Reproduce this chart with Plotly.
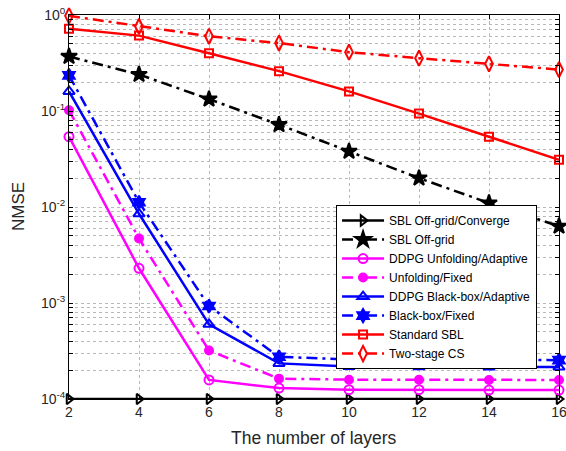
import plotly.graph_objects as go

layers = [2, 4, 6, 8, 10, 12, 14, 16]
sbl_offgrid_converge = [1e-4, 1e-4, 1e-4, 1e-4, 1e-4, 1e-4, 1e-4, 1e-4]
sbl_offgrid = [0.37, 0.24, 0.133, 0.072, 0.038, 0.020, 0.011, 0.0063]
ddpg_unfolding = [0.054, 0.0023, 0.000158, 0.000130, 0.000125, 0.000125, 0.000124, 0.000124]
unfolding_fixed = [0.102, 0.0047, 0.00032, 0.000163, 0.000159, 0.000159, 0.000158, 0.000158]
ddpg_blackbox = [0.16, 0.0085, 0.0006, 0.000235, 0.000218, 0.000217, 0.000216, 0.000215]
blackbox_fixed = [0.235, 0.0112, 0.00093, 0.000275, 0.000258, 0.000256, 0.000255, 0.000254]
standard_sbl = [0.72, 0.61, 0.40, 0.26, 0.16, 0.094, 0.054, 0.031]
two_stage_cs = [0.98, 0.76, 0.60, 0.51, 0.41, 0.355, 0.31, 0.27]

y_decades = [-4, -3, -2, -1, 0]
y_tickvals = []
y_ticktext = []
for d in y_decades:
    for m in range(1, 10):
        if d == 0 and m > 1:
            break
        y_tickvals.append(m * 10.0 ** d)
        y_ticktext.append(f"10<sup>{d}</sup>" if m == 1 else "")

DASHDOT = "11px,5px,3px,5px"
series = [
    ("SBL Off-grid/Converge", sbl_offgrid_converge, "black", "solid", "triangle-right-open", 9),
    ("SBL Off-grid", sbl_offgrid, "black", DASHDOT, "star", 12),
    ("DDPG Unfolding/Adaptive", ddpg_unfolding, "#ff00ff", "solid", "circle-open", 9),
    ("Unfolding/Fixed", unfolding_fixed, "#ff00ff", DASHDOT, "circle", 8),
    ("DDPG Black-box/Adaptive", ddpg_blackbox, "blue", "solid", "triangle-up-open", 10),
    ("Black-box/Fixed", blackbox_fixed, "blue", DASHDOT, "hexagram", 10),
    ("Standard SBL", standard_sbl, "red", "solid", "square-open", 8),
    ("Two-stage CS", two_stage_cs, "red", DASHDOT, "diamond-tall-open", 11),
]

fig = go.Figure()
for name, ys, color, dash, sym, size in series:
    fig.add_trace(go.Scatter(
        x=layers, y=ys, name=name, mode="lines+markers",
        line=dict(color=color, width=2.5, dash=dash),
        marker=dict(symbol=sym, size=size, color=color, line=dict(color=color, width=2)),
        cliponaxis=False,
    ))

axis_common = dict(
    showline=True, linecolor="black", linewidth=1, mirror="allticks",
    ticks="inside", ticklen=4, tickcolor="black",
    gridcolor="#b8b8b8", griddash="dot", gridwidth=1,
    tickfont=dict(family="Liberation Sans, Arial", size=14, color="#262626"),
    zeroline=False, automargin=False, ticklabeloverflow="allow",
)

fig.update_layout(
    width=566, height=451,
    margin=dict(l=69, r=7, t=15, b=52),
    paper_bgcolor="white", plot_bgcolor="white",
    font=dict(family="Liberation Sans, Arial", color="#262626"),
    xaxis=dict(range=[2, 16], tickvals=layers, **axis_common),
    yaxis=dict(type="log", range=[-4, 0], tickvals=y_tickvals, ticktext=y_ticktext, **axis_common),
    legend=dict(
        x=0.545, y=0.505, xanchor="left", yanchor="top",
        bgcolor="white", bordercolor="black", borderwidth=1,
        font=dict(family="Liberation Sans, Arial", size=12, color="black"),
        tracegroupgap=0, itemwidth=42,
    ),
    showlegend=True,
    annotations=[
        dict(text="The number of layers", xref="paper", yref="paper", x=0.5, y=0,
             xanchor="center", yanchor="middle", yshift=-39, showarrow=False,
             font=dict(family="Liberation Sans, Arial", size=17.5, color="#262626")),
        dict(text="NMSE", xref="paper", yref="paper", x=0, y=0.5, textangle=-90,
             xanchor="center", yanchor="middle", xshift=-51, showarrow=False,
             font=dict(family="Liberation Sans, Arial", size=17, color="#262626")),
    ],
)

fig.write_html(
    "out.html",
    config={"displayModeBar": False},
    post_script="document.body.style.margin='0';document.body.style.overflow='hidden';",
)
